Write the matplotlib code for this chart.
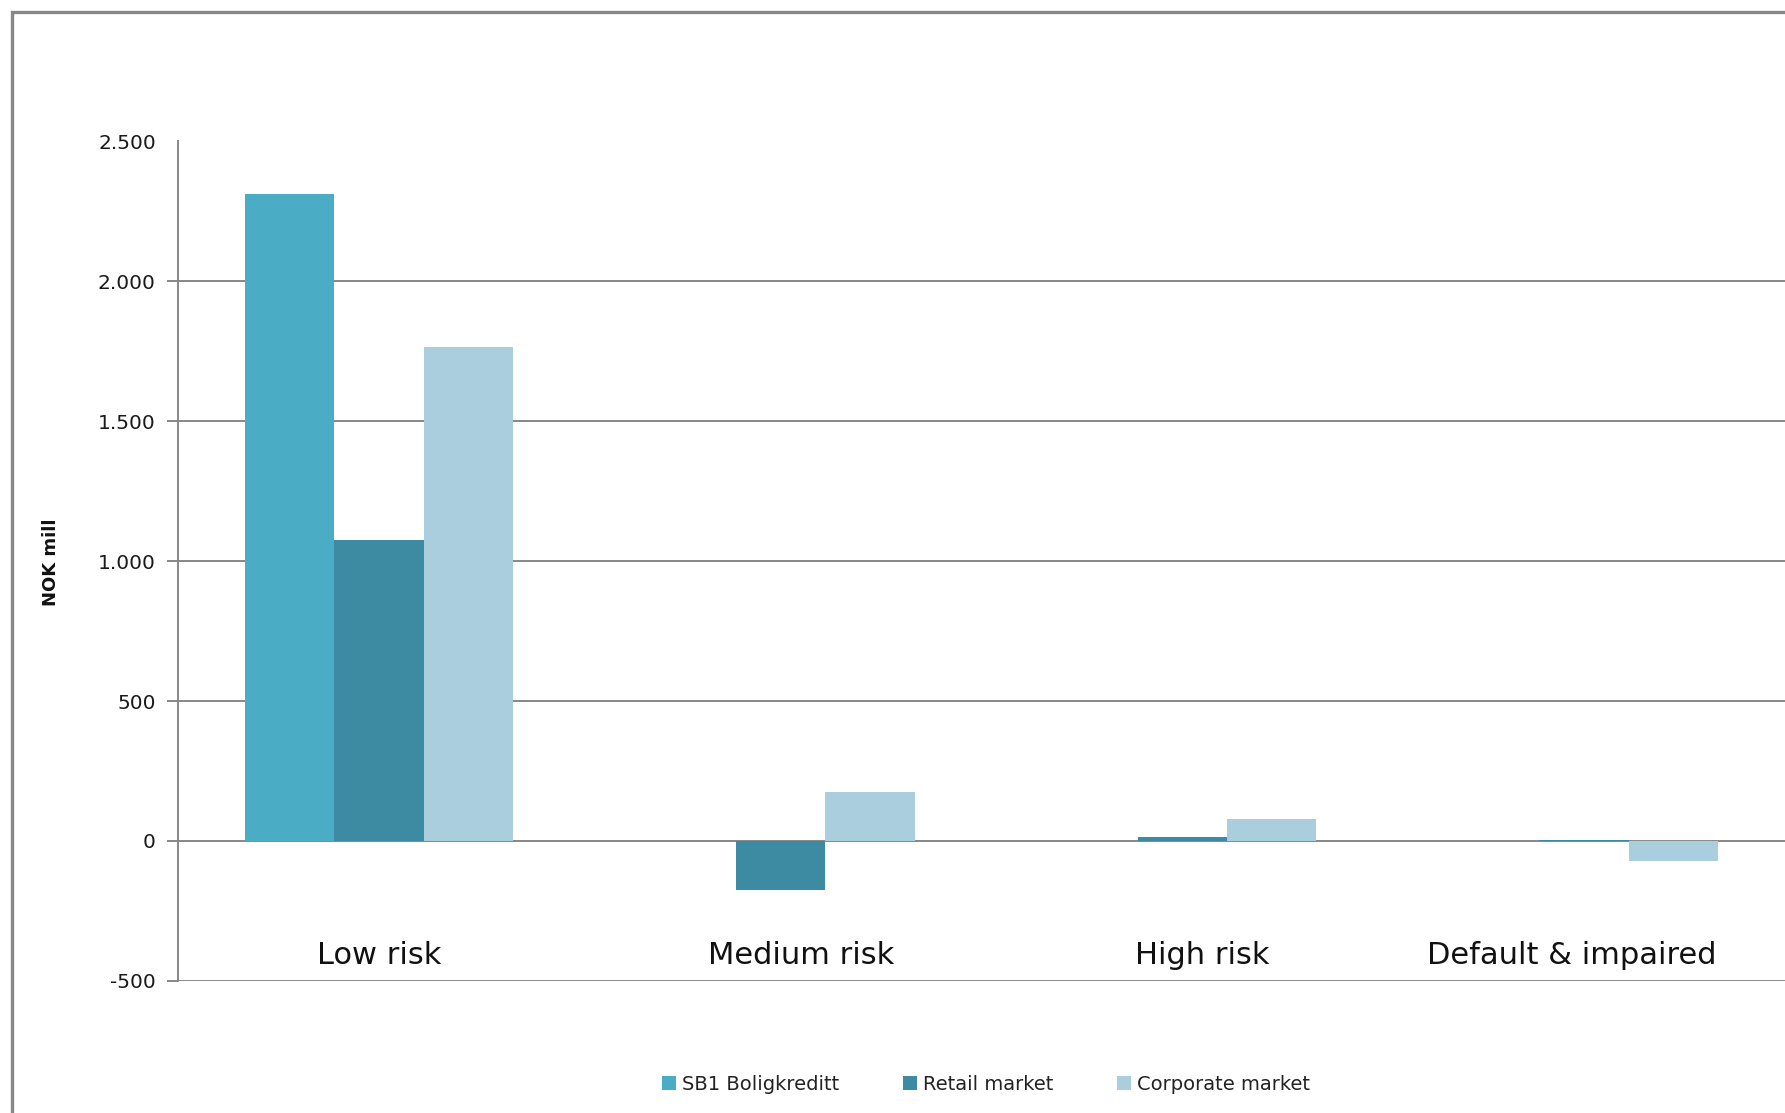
import matplotlib
matplotlib.use("Agg")
import matplotlib.pyplot as plt
from matplotlib.patches import Rectangle
from matplotlib.ticker import FuncFormatter
import numpy as np

# Risk classes and exposure change per segment (NOK mill)
categories = ["Low risk", "Medium risk", "High risk", "Default & impaired"]
series_names = ["SB1 Boligkreditt", "Retail market", "Corporate market"]
sb1_boligkreditt = [2310, 0, 0, 0]
retail_market = [1075, -175, 15, 5]
corporate_market = [1765, 175, 80, -72]
y_ticks = [-500, 0, 500, 1000, 1500, 2000, 2500]

# horizontal nudges of the category captions (in category units)
label_shift = [0.0, 0.05, 0.05, -0.03]

colors = ["#4BACC6", "#3D8BA3", "#AACEDD"]
grid_col = "#878787"

W, H = 1785, 1113
fig = plt.figure(figsize=(W / 100, H / 100), dpi=100)
fig.patch.set_facecolor("white")

# chart frame (extends past the right and bottom edges)
frame = Rectangle((12 / W, -0.2), 1.2, 1 - 12 / H + 0.2, transform=fig.transFigure,
                  fill=False, edgecolor=grid_col, linewidth=2.4, zorder=0)
fig.patches.append(frame)

left, right = 178 / W, 1.0
bottom, top = 1 - 981 / H, 1 - 141 / H
ax = fig.add_axes([left, bottom, right - left, top - bottom])

values = [sb1_boligkreditt, retail_market, corporate_market]
bw = 1 / 4.5  # Excel-style 150% gap width
x = np.arange(len(categories))
for j, (name, vals) in enumerate(zip(series_names, values)):
    ax.bar(x + (j - 1) * bw, vals, width=bw, color=colors[j], label=name,
           zorder=3, linewidth=0)

ax.set_xlim(-0.5, len(categories) - 0.5)
ax.set_ylim(-500, 2500)
ax.set_yticks(y_ticks)
ax.yaxis.set_major_formatter(FuncFormatter(lambda v, p: f"{int(v):,}".replace(",", ".")))
ax.yaxis.grid(True, color=grid_col, linewidth=1.4, zorder=1)
ax.set_axisbelow(True)
ax.set_xticks([])

for s in ["top", "right", "bottom"]:
    ax.spines[s].set_visible(False)
ax.spines["left"].set_color(grid_col)
ax.spines["left"].set_linewidth(1.4)
ax.tick_params(axis="y", length=8, width=1.4, color=grid_col, pad=8,
               labelsize=14.5, labelcolor="#1a1a1a")

# no gridline or tick mark at the top value
fig.canvas.draw()
ax.get_ygridlines()[-1].set_visible(False)
ax.yaxis.get_major_ticks()[-1].tick1line.set_visible(False)

for i, c in enumerate(categories):
    ax.text(i + label_shift[i], -410, c, ha="center", va="center", fontsize=22,
            color="#111111")

fig.text(51 / W, 1 - 562 / H, "NOK mill", rotation=90, ha="center", va="center",
         fontsize=13, fontweight="bold", color="#111111")

leg = fig.legend(loc="center", bbox_to_anchor=(986 / W, 1 - 1084 / H), ncol=3,
                 frameon=False, fontsize=14, handlelength=0.7, handleheight=0.7,
                 handletextpad=0.3, columnspacing=3.3, labelcolor="#222222")

fig.savefig("out.png", dpi=100, facecolor="white")
